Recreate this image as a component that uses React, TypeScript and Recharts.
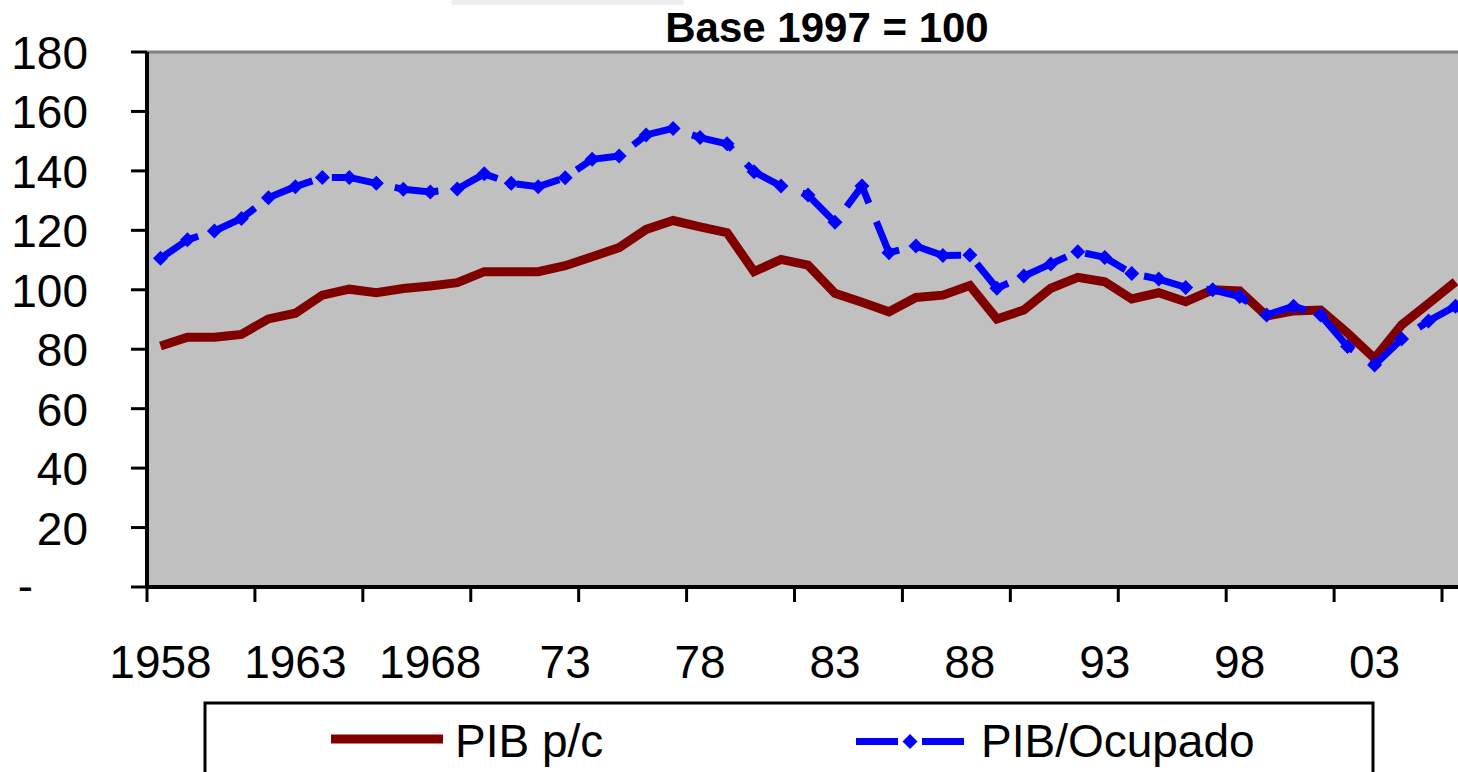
import React from 'react'
import { LineChart, Line, XAxis, YAxis, CartesianGrid, ReferenceLine, Legend } from 'recharts'

// years on the category axis
const years = [
  1958, 1959, 1960, 1961, 1962, 1963, 1964, 1965, 1966, 1967, 1968, 1969,
  1970, 1971, 1972, 1973, 1974, 1975, 1976, 1977, 1978, 1979, 1980, 1981,
  1982, 1983, 1984, 1985, 1986, 1987, 1988, 1989, 1990, 1991, 1992, 1993,
  1994, 1995, 1996, 1997, 1998, 1999, 2000, 2001, 2002, 2003, 2004, 2005, 2006,
]

const pibPc = [
  81.1, 84.0, 84.0, 85.0, 90.2, 92.1, 98.2, 100.2, 99.0, 100.4, 101.3, 102.4,
  106.1, 106.1, 106.1, 108.1, 111.1, 114.2, 120.3, 123.3, 121.2, 119.2, 106.1, 110.2,
  108.3, 98.8, 95.8, 92.6, 97.4, 98.2, 101.4, 90.2, 93.2, 100.5, 104.2, 102.7,
  96.9, 99.0, 96.0, 100.0, 99.6, 91.2, 92.9, 93.2, 85.4, 76.9, 88.2, 95.4, 102.7,
]

const pibOcupado = [
  110.6, 116.8, 119.8, 124.0, 131.0, 134.7, 137.8, 137.8, 135.8, 133.8, 132.9, 133.9,
  139.0, 135.8, 134.7, 137.7, 143.9, 145.0, 152.1, 154.3, 151.2, 149.1, 139.7, 134.9,
  131.9, 122.7, 134.9, 112.5, 114.7, 111.5, 111.7, 100.5, 104.6, 108.7, 112.8, 110.9,
  105.5, 103.6, 100.8, 100.0, 97.7, 91.5, 94.5, 91.5, 80.9, 74.7, 83.4, 89.5, 94.5,
]

const labelYears = [1958, 1963, 1968, 1973, 1978, 1983, 1988, 1993, 1998, 2003]
const labelText = ['1958', '1963', '1968', '73', '78', '83', '88', '93', '98', '03']
const yTicks = [0, 20, 40, 60, 80, 100, 120, 140, 160, 180]

const FONT = "Arial, 'Liberation Sans', sans-serif"
const RED = '#800000'
const BLUE = '#0000FF'

const data = years.map((year, i) => ({ year, pibPc: pibPc[i], pibOcupado: pibOcupado[i] }))

// tick marks sit on category boundaries every 4 years, labels every 5 years
const boundaryTicks = years.filter((_, i) => i % 4 === 0).map((y) => y - 0.5)
const xTicks = [...boundaryTicks, ...labelYears].sort((a, b) => a - b)

const XTick = (props: any) => {
  const { x, y, payload } = props
  const v = payload.value
  const idx = labelYears.indexOf(v)
  if (idx === -1) {
    return <line x1={x} x2={x} y1={y} y2={y + 15} stroke="#000" strokeWidth={3} />
  }
  return (
    <text x={x} y={678} textAnchor="middle" fontFamily={FONT} fontSize={46} fill="#000">
      {labelText[idx]}
    </text>
  )
}

const YTick = (props: any) => {
  const { y, payload } = props
  if (payload.value === 0) {
    return (
      <text x={33} y={y + 15} textAnchor="end" fontFamily={FONT} fontSize={46} fill="#000">
        -
      </text>
    )
  }
  return (
    <text x={88} y={y + 17} textAnchor="end" fontFamily={FONT} fontSize={46} fill="#000">
      {payload.value}
    </text>
  )
}

const Diamond = (props: any) => {
  const { cx, cy } = props
  if (cx == null || cy == null) return null
  const r = 7.5
  return <path d={`M${cx},${cy - r}L${cx + r},${cy}L${cx},${cy + r}L${cx - r},${cy}Z`} fill={BLUE} />
}

const renderLegend = () => (
  <svg width={1458} height={772} style={{ display: 'block' }}>
    <rect x={205} y={703} width={1168} height={120} fill="#fff" stroke="#000" strokeWidth={3} />
    <line x1={331} x2={443} y1={739} y2={739} stroke={RED} strokeWidth={9} />
    <text x={455} y={757} fontFamily={FONT} fontSize={46} fill="#000">PIB p/c</text>
    <line x1={856} x2={898} y1={741.5} y2={741.5} stroke={BLUE} strokeWidth={7} />
    <line x1={922} x2={964} y1={741.5} y2={741.5} stroke={BLUE} strokeWidth={7} />
    <Diamond cx={910} cy={741.5} />
    <text x={981} y={757} fontFamily={FONT} fontSize={46} fill="#000">PIB/Ocupado</text>
  </svg>
)

export default function App() {
  return (
    <div style={{ position: 'fixed', left: 0, top: 0, width: 1458, height: 772, overflow: 'hidden', background: '#fff' }}>
      <div style={{ position: 'absolute', left: 451, top: 0, width: 233, height: 5, background: '#eeeeee', borderRadius: 3 }} />
      <svg width={1458} height={60} style={{ position: 'absolute', left: 0, top: 0 }}>
        <text x={827} y={42} textAnchor="middle" fontFamily={FONT} fontSize={42} fontWeight="bold" fill="#000">
          Base 1997 = 100
        </text>
      </svg>
      <div style={{ position: 'absolute', left: 0, top: 0 }}>
        <LineChart width={1500} height={772} data={data} margin={{ top: 52, right: 31, left: 0, bottom: 0 }}>
          <CartesianGrid horizontal={false} vertical={false} fill="#C0C0C0" />
          <ReferenceLine y={180} stroke="#808080" strokeWidth={3} />
          <XAxis
            dataKey="year"
            type="number"
            domain={[1957.5, 2006.5]}
            ticks={xTicks}
            interval={0}
            height={185}
            tickSize={0}
            tickMargin={0}
            tickLine={false}
            tick={<XTick />}
            axisLine={{ stroke: '#000', strokeWidth: 4 }}
          />
          <YAxis
            domain={[0, 180]}
            ticks={yTicks}
            interval={0}
            width={147}
            tickSize={16}
            tickLine={{ stroke: '#000', strokeWidth: 3 }}
            tick={<YTick />}
            axisLine={{ stroke: '#000', strokeWidth: 4 }}
          />
          <Line
            dataKey="pibPc"
            name="PIB p/c"
            stroke={RED}
            strokeWidth={9}
            dot={false}
            activeDot={false}
            isAnimationActive={false}
          />
          <Line
            dataKey="pibOcupado"
            name="PIB/Ocupado"
            stroke={BLUE}
            strokeWidth={7}
            strokeDasharray="44 20"
            dot={(p: any) => <Diamond key={`d-${p.index}`} cx={p.cx} cy={p.cy} />}
            activeDot={false}
            isAnimationActive={false}
          />
          <Legend
            layout="vertical"
            verticalAlign="middle"
            align="center"
            content={renderLegend}
            wrapperStyle={{ left: 0, top: 0, width: 1458, height: 772, pointerEvents: 'none' }}
          />
        </LineChart>
      </div>
    </div>
  )
}
